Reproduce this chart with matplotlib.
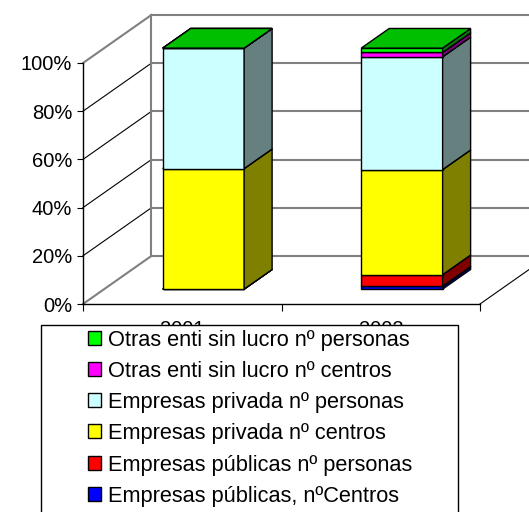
import matplotlib
matplotlib.use('Agg')
import matplotlib.pyplot as plt
from matplotlib.patches import Polygon, Rectangle
from matplotlib.ticker import PercentFormatter
from matplotlib.colors import to_rgb

plt.rcParams['font.family'] = ['Liberation Sans', 'DejaVu Sans']

# data (percent of each year's total), bottom to top of the stack
years = ['2001', '2002']
pub_centros = [0.0, 1.2]
pub_personas = [0.0, 4.8]
priv_centros = [50.0, 43.6]
priv_personas = [50.0, 46.8]
otras_centros = [0.0, 1.8]
otras_personas = [0.0, 1.8]

series = [pub_centros, pub_personas, priv_centros, priv_personas, otras_centros, otras_personas]
labels = ['Empresas públicas, nºCentros', 'Empresas públicas nº personas',
          'Empresas privada nº centros', 'Empresas privada nº personas',
          'Otras enti sin lucro nº centros', 'Otras enti sin lucro nº personas']
colors = ['#0000FF', '#FF0000', '#FFFF00', '#CCFFFF', '#FF00FF', '#00FF00']

# oblique projection of the depth axis (category units, percent units)
DX, DY = 0.344, 19.9
D_FRONT, D_BACK = 0.31, 0.72
BAR_W = 0.41


def shade(c, f):
    r, g, b = to_rgb(c)
    return (r * f, g * f, b * f)


def p(x, y, d):
    return (x + d * DX, y + d * DY)


fig = plt.figure(figsize=(5.29, 5.12), dpi=100)
ax = fig.add_axes([83 / 529, 208 / 512, 397 / 529, 241 / 512])
ax.set_facecolor('none')
ax.set_xlim(0, 2)
ax.set_ylim(0, 100)
for s in ['top', 'right']:
    ax.spines[s].set_visible(False)
ax.spines['left'].set_linewidth(1)
ax.spines['bottom'].set_linewidth(1)

ax.set_yticks([0, 20, 40, 60, 80, 100])
ax.yaxis.set_major_formatter(PercentFormatter(decimals=0))
ax.tick_params(axis='y', direction='out', length=4.3, width=0.8, labelsize=14.5, pad=3.5)
ax.set_xticks([0, 1, 2])
ax.set_xticklabels([])
ax.tick_params(axis='x', which='major', direction='out', length=5, width=0.8)
ax.set_xticks([0.5, 1.5], minor=True)
ax.set_xticklabels(years, minor=True)
ax.tick_params(axis='x', which='minor', length=0, labelsize=14.5, pad=11.5)

# walls and gridlines
grid_gray = '#808080'
for v in [0, 20, 40, 60, 80, 100]:
    a, b = p(0, v, 0), p(0, v, 1)
    c = grid_gray if v in (0, 100) else 'black'
    ax.plot([a[0], b[0]], [a[1], b[1]], color=c, lw=0.8 if c == 'black' else 1.5,
            clip_on=False, zorder=1)
    a2 = p(2, v, 1)
    ax.plot([b[0], a2[0]], [b[1], a2[1]], color=grid_gray, lw=1.5, clip_on=False, zorder=1)
a, b = p(0, 0, 1), p(0, 100, 1)
ax.plot([a[0], b[0]], [a[1], b[1]], color=grid_gray, lw=1.5, clip_on=False, zorder=1)
a, b = p(2, 0, 0), p(2, 0, 1)
ax.plot([a[0], b[0]], [a[1], b[1]], color='black', lw=0.8, clip_on=False, zorder=1)

# 3D stacked bars
for i in range(len(years)):
    x0 = i + 0.5 - BAR_W / 2
    x1 = i + 0.5 + BAR_W / 2
    base = 0.0
    for vals, col in zip(series, colors):
        top = base + vals[i]
        front = [p(x0, base, D_FRONT), p(x1, base, D_FRONT), p(x1, top, D_FRONT), p(x0, top, D_FRONT)]
        side = [p(x1, base, D_FRONT), p(x1, base, D_BACK), p(x1, top, D_BACK), p(x1, top, D_FRONT)]
        lid = [p(x0, top, D_FRONT), p(x1, top, D_FRONT), p(x1, top, D_BACK), p(x0, top, D_BACK)]
        for pts, f in [(front, 1.0), (side, 0.5), (lid, 0.75)]:
            ax.add_patch(Polygon(pts, closed=True, facecolor=shade(col, f), edgecolor='black',
                                 lw=1, joinstyle='miter', clip_on=False, zorder=3))
        base = top

# legend box drawn in pixel space on top
lax = fig.add_axes([0, 0, 1, 1], zorder=5)
lax.set_xlim(0, 529)
lax.set_ylim(512, 0)
lax.axis('off')
lax.add_patch(Rectangle((41, 325), 417, 200, facecolor='white', edgecolor='black', lw=1, clip_on=False))
baselines = [345.7 + 31.2 * k for k in range(6)]
for yy, lab, col in zip(baselines, labels[::-1], colors[::-1]):
    lax.add_patch(Rectangle((88, yy - 15), 13, 14, facecolor=col, edgecolor='black', lw=1))
    lax.text(108.5, yy, lab, fontsize=15.7, va='baseline', ha='left')

fig.savefig('out.png', dpi=100)
